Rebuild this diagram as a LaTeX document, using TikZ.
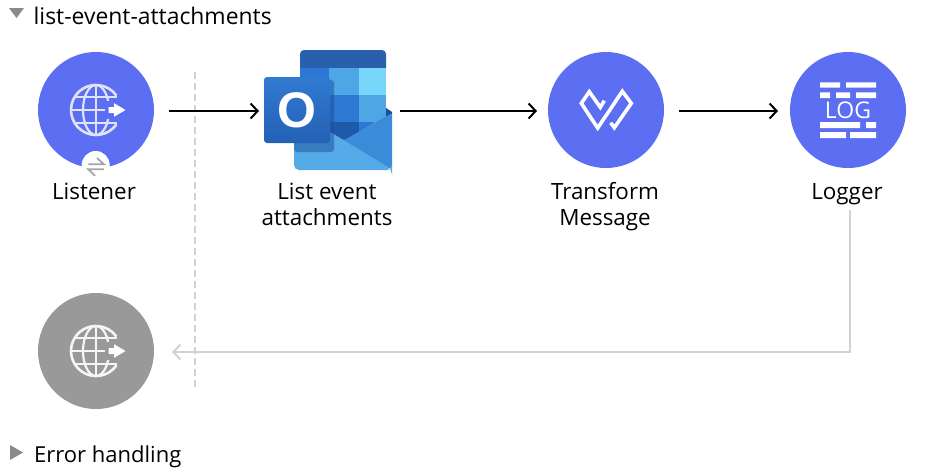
\documentclass[tikz,border=0pt]{standalone}
\usepackage{fontspec}
\setmainfont{Open Sans}
\newfontfamily\logfont{Open Sans}
\newfontfamily\oicon{Liberation Sans}
\usetikzlibrary{arrows.meta,calc}
\definecolor{muleblue}{HTML}{5C6EF2}
\definecolor{mulegrey}{HTML}{999999}
\definecolor{linegrey}{HTML}{D2D2D2}
\definecolor{tri}{HTML}{8A8A8A}
\tikzset{
  roundicon/.style={circle,minimum size=116pt,inner sep=0pt,outer sep=0pt,fill=muleblue},
  greyicon/.style={roundicon,fill=mulegrey},
  title/.style={anchor=base west,inner sep=0pt,font=\fontsize{22.9}{24}\selectfont,text=black},
  errtitle/.style={anchor=base west,inner sep=0pt,font=\fontsize{22}{24}\selectfont,text=black},
  caption/.style={anchor=base,inner sep=0pt,align=center,font=\fontsize{22.4}{26}\selectfont,text=black},
  flow/.style={draw=black,line width=2pt,-{Straight Barb[length=7pt,width=15pt]}},
  back/.style={draw=linegrey,line width=2pt,-{Straight Barb[length=7pt,width=15pt]}},
}
\newcommand{\globeicon}[4]{%
  \begin{scope}[shift={(#1,#2)}]
    \draw[#3,line width=2.2pt] (0,-25) -- (0,25);
    \draw[#3,line width=2.2pt] (0,0) ellipse [x radius=13,y radius=25];
    \draw[#3,line width=2.2pt] (-22,-13) -- (21,-13) (-22,13) -- (21,13) (-25,0) -- (10,0);
    \fill[#4] (8.5,-9) rectangle (32,9);
    \draw[#3,line width=2.6pt] (35:25) arc[start angle=35,end angle=325,radius=25];
    \fill[white] (12.5,-3) -- (18,-3) -- (18,-6.8) -- (29.5,0) -- (18,6.8) -- (18,3) -- (12.5,3) -- cycle;
  \end{scope}}
\begin{document}
\begin{tikzpicture}[x=1pt,y=-1pt]
\useasboundingbox (0,0) rectangle (942,474);
\fill[white] (0,0) rectangle (942,474);
% dashed divider
\coordinate (divtop) at (195,72);
\coordinate (divbot) at (195,388);
\draw[linegrey,line width=2pt,dash pattern=on 7pt off 4pt] (divtop) -- (divbot);
% header triangles
\fill[tri] (9,8) -- (24,8) -- (16.5,18) -- cycle;
\fill[tri] (10,445) -- (23,452.5) -- (10,460) -- cycle;
\node[title] (flowname) at (33.5,24) {list-event-attachments};
\node[errtitle] (errname) at (34,462) {Error handling};
% listener
\node[roundicon] (listener) at (96,110) {};
\globeicon{96}{110}{color={rgb,255:red,223;green,226;blue,251}}{muleblue}
\fill[white] (95.7,165) circle (14);
\draw[color=black!35,line width=1.8pt] (88.3,164.3) -- (104,164.3) -- (97,158);
\draw[color=black!35,line width=1.8pt] (104,169.3) -- (88.3,169.3) -- (95,175.8);
\node[caption] (listenerlabel) at (94,199) {Listener};
% outlook
\node[minimum width=128pt,minimum height=120pt,inner sep=0pt,outer sep=0pt] (outlook) at (328,110) {};
\begin{scope}
  \fill[color={rgb,255:red,42;green,95;blue,173},rounded corners=4pt] (300,50) rectangle (386,72);
  \fill[color={rgb,255:red,43;green,120;blue,212}] (300,68) rectangle (329,95);
  \fill[color={rgb,255:red,78;green,166;blue,228}] (329,68) rectangle (359,95);
  \fill[color={rgb,255:red,120;green,214;blue,251}] (359,68) rectangle (386,95);
  \fill[color={rgb,255:red,43;green,112;blue,204}] (300,95) rectangle (329,122);
  \fill[color={rgb,255:red,44;green,120;blue,210}] (329,95) rectangle (359,122);
  \fill[color={rgb,255:red,78;green,166;blue,228}] (359,95) rectangle (386,122);
  % third row, cut off by the envelope flap
  \fill[color={rgb,255:red,31;green,90;blue,170}] (300,122) -- (359,122) -- (359,132) -- (344,140.5) -- (300,116) -- cycle;
  \fill[color={rgb,255:red,44;green,120;blue,210}] (359,122) -- (376,122) -- (359,132) -- cycle;
  % envelope
  \fill[color={rgb,255:red,26;green,78;blue,150}] (386,108) -- (392,112) -- (392,114) -- (386,117) -- cycle;
  \fill[color={rgb,255:red,58;green,139;blue,216},rounded corners=2pt] (392,113) -- (392,168) -- (370,168) -- (330,133) -- (344,140.5) -- cycle;
  \fill[color={rgb,255:red,85;green,170;blue,232},rounded corners=5pt] (294,110) -- (294,170) -- (392,170) -- (392,169.5) -- cycle;
  \fill[color={rgb,255:red,30;green,80;blue,150},opacity=.5,rounded corners=3pt] (294,80) rectangle (334,152);
  \shade[top color={rgb,255:red,49;green,122;blue,210},bottom color={rgb,255:red,35;green,97;blue,181},rounded corners=3pt] (264,77) rectangle (330,143);
  \node[inner sep=0pt,text=white,font=\oicon\bfseries\fontsize{50}{50}\selectfont] (outlooko) at (296.5,110) {O};
\end{scope}
% transform
\node[roundicon] (transform) at (606,110) {};
\draw[white,line width=3.6pt,miter limit=10,join=miter] (604.3,100.7) -- (600.3,107.3) -- (589.3,91.7) -- (581.3,103.3) -- (597.7,128) -- (622.3,91.3) -- (631.3,103.3) -- (614.3,127.7) -- (610.7,122.7);
\node[caption] (transformlabel) at (605,225) {Transform\\Message};
% logger
\node[roundicon] (logger) at (848,110) {};
\fill[white]
  (820,82.3) rectangle (840,87.7) (846,82.3) rectangle (876,87.7)
  (820,92.3) rectangle (830,98) (836,92.3) rectangle (850,98) (856,92.3) rectangle (876,98)
  (820,122) rectangle (860,128) (866,122) rectangle (876,128)
  (820,132) rectangle (846,138) (850,132) rectangle (876,138);
\node[inner sep=0pt,text=white,font=\logfont\fontsize{23}{23}\selectfont] (logword) at (848,110.5) {LOG};
\node[caption] (loggerlabel) at (847,199) {Logger};
% error response
\node[greyicon] (errorsrc) at (96,351) {};
\globeicon{96}{351}{color={rgb,255:red,245;green,245;blue,245}}{mulegrey}
\node[caption] (outlooklabel) at (327,225) {List event\\attachments};
% connectors
\draw[flow,shorten <=15pt,shorten >=5pt] ([yshift=-1pt]listener.east) -- ([yshift=-1pt]outlook.west);
\draw[flow,shorten <=8pt,shorten >=11pt] ([yshift=-1pt]outlook.east) -- ([yshift=-1pt]transform.west);
\draw[flow,shorten <=15pt,shorten >=12pt] ([yshift=-1pt]transform.east) -- ([yshift=-1pt]logger.west);
\draw[back,shorten <=42pt,shorten >=18pt] ([xshift=1.5pt]logger.south) |- ([yshift=-1pt]errorsrc.east);
\end{tikzpicture}
\end{document}
